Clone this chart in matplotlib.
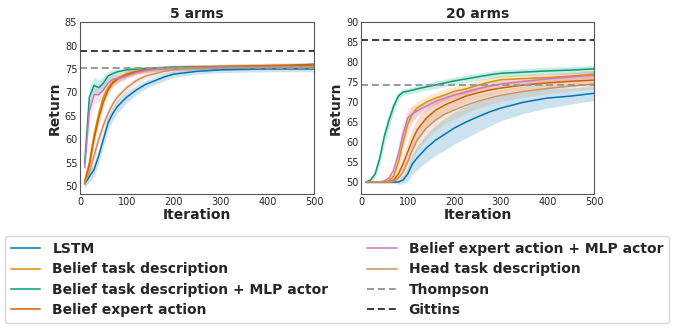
import numpy as np
import matplotlib
matplotlib.use("Agg")
import matplotlib.pyplot as plt

# ---------------- data ----------------
labels = ["LSTM", "Belief task description", "Belief task description + MLP actor",
          "Belief expert action", "Belief expert action + MLP actor", "Head task description"]
colors = ["#0173b2", "#de8f05", "#029e73", "#d55e00", "#cc78bc", "#ca9161"]

# 5 arms
iters5 = [10, 20, 30, 40, 50, 60, 70, 80, 90, 100, 120, 140, 160, 180, 200, 250, 300, 350, 400, 450, 500]
lstm5 = [50.5, 52, 53.5, 56.5, 60, 63.5, 65.5, 67, 68, 69, 70.5, 71.7, 72.5, 73.3, 73.9, 74.5, 74.8, 74.9, 75, 75, 75]
btd5 = [51, 55, 61, 65.5, 69, 71, 72.3, 73, 73.5, 74, 74.5, 74.8, 75, 75.1, 75.2, 75.4, 75.5, 75.6, 75.7, 75.7, 75.8]
btdmlp5 = [55, 69, 71.5, 71, 72, 73.5, 74, 74.4, 74.6, 74.8, 75, 75.1, 75.2, 75.3, 75.4, 75.4, 75.5, 75.5, 75.6, 75.7, 76]
bea5 = [50.8, 54.5, 60, 64.5, 68, 70.5, 72, 72.8, 73.3, 73.8, 74.4, 74.8, 75, 75.1, 75.2, 75.4, 75.5, 75.6, 75.7, 75.8, 75.9]
beamlp5 = [54, 66, 69.5, 69.5, 70.5, 72, 72.8, 73, 73.2, 73.5, 74.2, 74.6, 74.9, 75.1, 75.2, 75.3, 75.4, 75.4, 75.5, 75.5, 75.5]
htd5 = [50.5, 53, 56.5, 60, 63, 65.5, 67.5, 69, 70, 71, 72.5, 73.5, 74, 74.5, 74.8, 75.2, 75.3, 75.4, 75.4, 75.5, 75.5]
sd5 = [
    [0.8, 1.2, 1.5, 1.5, 1.5, 1.5, 1.5, 1.4, 1.3, 1.2, 1.0, 0.9, 0.8, 0.8, 0.7, 0.6, 0.6, 0.6, 0.6, 0.6, 0.6],
    [0.8, 1.0, 1.2, 1.2, 1.2, 1.0, 0.9, 0.8, 0.7, 0.7, 0.6, 0.6, 0.5, 0.5, 0.5, 0.5, 0.5, 0.5, 0.5, 0.5, 0.5],
    [1.5, 2.0, 1.8, 1.6, 1.4, 1.0, 0.8, 0.6, 0.5, 0.5, 0.4, 0.4, 0.4, 0.4, 0.4, 0.4, 0.4, 0.4, 0.4, 0.4, 0.4],
    [0.8, 1.0, 1.2, 1.2, 1.2, 1.0, 0.9, 0.8, 0.7, 0.7, 0.6, 0.6, 0.5, 0.5, 0.5, 0.5, 0.5, 0.5, 0.5, 0.5, 0.5],
    [1.5, 2.0, 1.8, 1.6, 1.4, 1.2, 1.0, 0.8, 0.7, 0.6, 0.5, 0.5, 0.5, 0.5, 0.5, 0.5, 0.5, 0.5, 0.5, 0.5, 0.5],
    [0.8, 1.0, 1.2, 1.3, 1.3, 1.2, 1.1, 1.0, 0.9, 0.8, 0.7, 0.6, 0.6, 0.5, 0.5, 0.5, 0.5, 0.5, 0.5, 0.5, 0.5],
]
thompson5 = 75.1
gittins5 = 78.8

# 20 arms
iters20 = [10, 20, 30, 40, 50, 60, 70, 80, 90, 100, 110, 120, 140, 160, 180, 200, 225, 250, 275, 300, 350, 400, 450, 500]
lstm20 = [50, 50, 50, 50, 50, 50, 50, 50, 50.5, 52, 54.5, 56, 58.5, 60.5, 62, 63.5, 65, 66.3, 67.5, 68.5, 70, 71, 71.5, 72.2]
btd20 = [50, 50, 50, 50, 50, 50.3, 51.5, 55, 60, 64.5, 67, 68.5, 70, 71, 71.8, 72.7, 73.3, 74.2, 75, 75.6, 75.9, 76.1, 76.5, 77]
btdmlp20 = [50, 50.5, 52, 56, 61.5, 65.5, 69, 71.5, 72.5, 72.7, 73, 73.3, 73.8, 74.3, 74.8, 75.3, 75.8, 76.3, 76.8, 77.2, 77.5, 77.8, 78, 78.3]
bea20 = [50, 50, 50, 50, 50, 50, 50.5, 52, 54.5, 57.5, 60.5, 63, 66, 68, 69.3, 70.3, 71.5, 72.3, 73, 73.5, 74.3, 74.8, 75.2, 75.5]
beamlp20 = [50, 50, 50, 50, 50.3, 51, 53, 57, 62, 66, 67, 67.8, 69, 70.2, 71, 71.8, 72.5, 73.3, 74, 74.5, 75.2, 75.8, 76.3, 76.7]
htd20 = [50, 50, 50, 50, 50, 50, 50.2, 51, 52.5, 55, 58, 60.5, 63.5, 65.5, 67, 68, 69.2, 70.2, 71, 71.7, 72.7, 73.4, 74, 74.5]
sd20 = [
    [0.2, 0.2, 0.2, 0.2, 0.2, 0.2, 0.3, 0.5, 1.0, 1.8, 2.5, 3.0, 3.5, 3.8, 4.0, 4.0, 4.0, 3.8, 3.5, 3.2, 2.8, 2.5, 2.0, 1.8],
    [0.2, 0.2, 0.2, 0.2, 0.3, 0.5, 1.0, 2.0, 2.5, 2.5, 2.0, 1.8, 1.5, 1.5, 1.4, 1.3, 1.2, 1.2, 1.1, 1.0, 1.0, 1.0, 1.0, 1.0],
    [0.3, 0.5, 1.0, 1.5, 2.0, 2.0, 1.5, 1.0, 0.8, 0.8, 0.8, 0.8, 0.8, 0.9, 0.9, 0.9, 0.9, 0.9, 0.9, 0.9, 0.9, 0.9, 0.9, 0.9],
    [0.2, 0.2, 0.2, 0.2, 0.2, 0.3, 0.6, 1.2, 2.0, 2.5, 2.8, 2.8, 2.5, 2.2, 2.0, 1.8, 1.6, 1.5, 1.4, 1.3, 1.2, 1.2, 1.2, 1.2],
    [0.2, 0.2, 0.2, 0.2, 0.4, 0.8, 1.5, 2.5, 3.0, 2.5, 2.0, 1.5, 1.2, 1.2, 1.1, 1.0, 1.0, 1.0, 1.0, 1.0, 1.0, 1.0, 1.0, 1.0],
    [0.2, 0.2, 0.2, 0.2, 0.2, 0.2, 0.4, 0.8, 1.5, 2.0, 2.5, 2.8, 2.8, 2.6, 2.4, 2.2, 2.0, 1.8, 1.6, 1.5, 1.4, 1.3, 1.2, 1.2],
]
thompson20 = 74.3
gittins20 = 85.5

series5 = [lstm5, btd5, btdmlp5, bea5, beamlp5, htd5]
series20 = [lstm20, btd20, btdmlp20, bea20, beamlp20, htd20]

# ---------------- plot ----------------
plt.rcParams['font.family'] = ['DejaVu Sans']
fig = plt.figure(figsize=(6.75, 3.3), dpi=100)
ax1 = fig.add_axes([0.1185, 0.412, 0.347, 0.521])
ax2 = fig.add_axes([0.535, 0.412, 0.345, 0.521])

DASH = (0, (3.6, 2.0))

def draw(ax, iters, series, sds, th, gi, title, ylim, yticks):
    x = np.array(iters)
    handles = []
    for s, sd, c, lab in zip(series, sds, colors, labels):
        s = np.array(s); sd = np.array(sd)
        ax.fill_between(x, s - sd, s + sd, color=c, alpha=0.2, linewidth=0)
        h, = ax.plot(x, s, color=c, lw=1.1, label=lab)
        handles.append(h)
    ht = ax.axhline(th, color="#999999", ls=DASH, lw=1.4, label="Thompson")
    hg = ax.axhline(gi, color="#3a3a3a", ls=DASH, lw=1.4, label="Gittins")
    ax.set_xlim(0, 500)
    ax.set_ylim(*ylim)
    ax.set_yticks(yticks)
    ax.set_xticks([0, 100, 200, 300, 400, 500])
    ax.tick_params(length=0, labelsize=7, colors="#262626", pad=2)
    for sp in ax.spines.values():
        sp.set_color("#555555")
        sp.set_linewidth(0.8)
    ax.set_title(title, fontsize=10, fontweight="bold", pad=3, color="#262626")
    ax.set_xlabel("Iteration", fontsize=10, fontweight="bold", labelpad=1, color="#262626")
    ax.set_ylabel("Return", fontsize=10, fontweight="bold", labelpad=2, color="#262626")
    return handles + [ht, hg]

handles = draw(ax1, iters5, series5, sd5, thompson5, gittins5, "5 arms", (48.3, 85), [50, 55, 60, 65, 70, 75, 80, 85])
draw(ax2, iters20, series20, sd20, thompson20, gittins20, "20 arms", (47, 90), [50, 55, 60, 65, 70, 75, 80, 85, 90])

leg = fig.legend(handles=handles, loc="upper center", bbox_to_anchor=(0.4995, 0.285), ncol=2,
                 prop={"weight": "bold", "size": 10}, frameon=True, handlelength=2.1,
                 columnspacing=2.8, labelspacing=0.45, borderpad=0.45, handletextpad=0.86,
                 borderaxespad=0.0, fancybox=True)
leg.get_frame().set_edgecolor("#cccccc")
for t in leg.get_texts():
    t.set_color("#262626")

fig.savefig("out.png", dpi=100)
